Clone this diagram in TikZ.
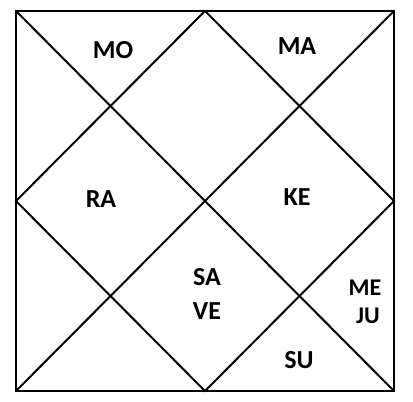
\documentclass[tikz,border=0pt]{standalone}
\usepackage{fontspec}
\setmainfont{Carlito}
\begin{document}
\begin{tikzpicture}[x=1pt,y=-1pt,
  lbl/.style={font=\bfseries\fontsize{26}{26}\selectfont, inner sep=0pt, anchor=center},
  small/.style={font=\bfseries\fontsize{24}{24}\selectfont},
  frame/.style={line width=2.6pt},
  diag/.style={line width=2pt}]
\useasboundingbox (0,0) rectangle (413,402);
\coordinate (tl) at (16,11);
\coordinate (tr) at (394,11);
\coordinate (bl) at (16,391);
\coordinate (br) at (394,391);
\coordinate (tm) at (205,11);
\coordinate (rm) at (394,201);
\coordinate (bm) at (205,391);
\coordinate (lm) at (16,201);
\draw[diag] (tl) -- (br);
\draw[diag] (tr) -- (bl);
\draw[diag] (tm) -- (rm) -- (bm) -- (lm) -- cycle;
\draw[frame] (tl) rectangle (br);
\node[lbl] (mo) at (113,50) {MO};
\node[lbl] (ma) at (297,46) {MA};
\node[lbl] (ra) at (101,199) {RA};
\node[lbl] (ke) at (297,197) {KE};
\node[lbl] (sa) at (207,277) {SA};
\node[lbl] (ve) at (207,311) {VE};
\node[lbl,small] (me) at (365,288) {ME};
\node[lbl,small] (ju) at (368,316) {JU};
\node[lbl] (su) at (299,360) {SU};
\end{tikzpicture}
\end{document}
